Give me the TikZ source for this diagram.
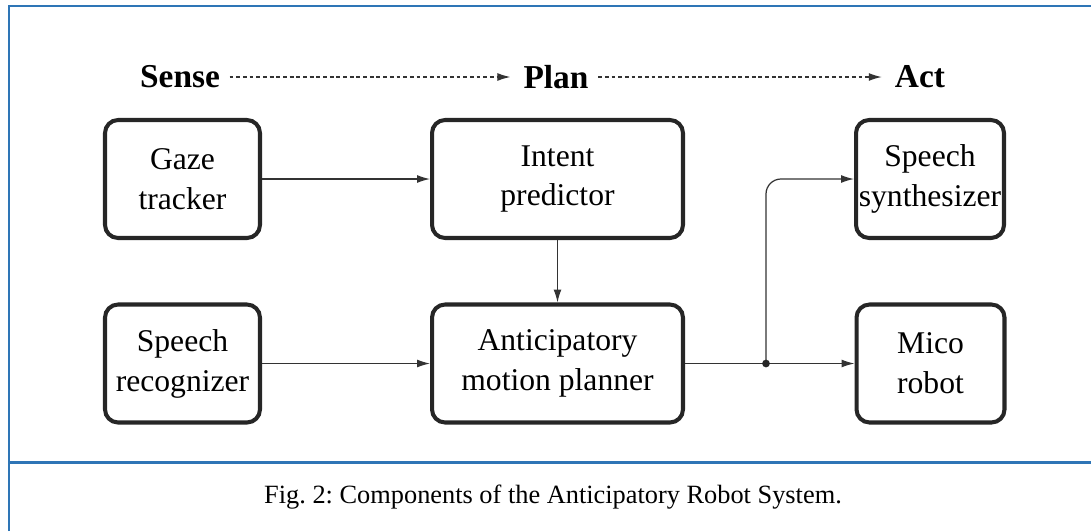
\documentclass[tikz,border=0pt]{standalone}
\usepackage{fontspec}
\setmainfont{Liberation Serif}
\usetikzlibrary{arrows.meta,positioning}
\definecolor{frameblue}{RGB}{46,117,182}
\frenchspacing
\tikzset{
  blokk/.style={draw=black!85,line width=2.3pt,rounded corners=0.26cm,align=center,
    inner sep=1pt,minimum height=2.36cm,font=\fontsize{18}{22.7}\selectfont},
  fej/.style={font=\fontsize{19}{22}\selectfont\bfseries},
  nyil/.style={-{Latex[length=2.6mm,width=1.6mm]},line width=0.7pt,black!80},
  szagg/.style={nyil,dashed,dash pattern=on 2.2pt off 1.6pt,shorten <=2pt,shorten >=4pt},
  keret/.style={frameblue,line width=1.7pt},
}
\begin{document}
\begin{tikzpicture}[x=0.02cm,y=-0.02cm]
  \useasboundingbox (0,0) rectangle (1091,531);
  % frame
  \draw[keret] (9,531) -- (9,6) -- (1091,6);
  \draw[keret] (9,462) -- (1091,462);
  % headings
  \node[fej] (sense) at (180,77) {Sense};
  \node[fej] (plan) at (556,77) {Plan};
  \node[fej] (act) at (920,77) {Act};
  \draw[szagg] (sense.east) -- (plan.west);
  \draw[szagg] (plan.east) -- (act.west);
  % boxes
  \node[blokk,minimum width=3.1cm] (gaze) at (182.5,179) {Gaze\\tracker};
  \node[blokk,minimum width=5.02cm] (intent) at (557.5,179) {Intent\\predictor};
  \node[blokk,minimum width=2.96cm] (synth) at (930,179) {Speech\\synthesizer};
  \node[blokk,minimum width=3.1cm] (recog) at (182.5,363.5) {Speech\\recognizer};
  \node[blokk,minimum width=5.02cm] (planner) at (557.5,363.5) {Anticipatory\\motion planner};
  \node[blokk,minimum width=2.96cm] (mico) at (930.5,363.5) {Mico\\robot};
  % connectors
  \draw[nyil] (gaze) -- (intent);
  \draw[nyil] (recog) -- (planner);
  \draw[nyil] (intent) -- (planner);
  \coordinate (split) at (766,363.5);
  \draw[nyil] (planner) -- (mico);
  \draw[nyil,rounded corners=0.3cm] (split) |- (synth.west);
  \fill[black!85] (split) circle (2.2pt);
  % caption
  \node[font=\fontsize{15}{18}\selectfont] (cap) at (553,497)
    {Fig. 2: Components of the Anticipatory Robot System.};
\end{tikzpicture}
\end{document}
